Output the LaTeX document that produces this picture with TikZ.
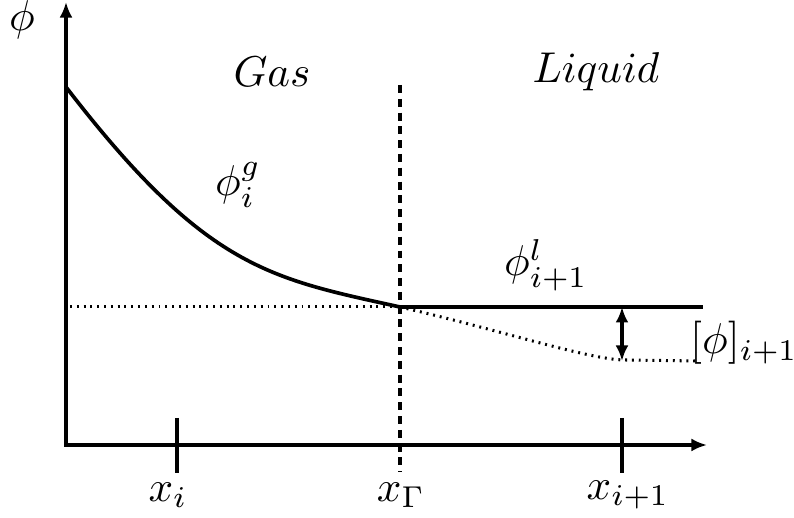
\documentclass[tikz,border=0pt]{standalone}
\usetikzlibrary{arrows.meta}
\begin{document}
\begin{tikzpicture}[x=0.232pt,y=-0.232pt,
  solidline/.style={line width=0.85pt},
  biarrow/.style={line width=0.85pt,arrows={Latex[length=3.6pt,width=3pt]-Latex[length=3.6pt,width=3pt]}},
  dotline/.style={line width=0.7pt, dash pattern=on 0.45pt off 1.13pt},
  dashline/.style={line width=0.85pt, dash pattern=on 1.85pt off 1.35pt},
  lbl/.style={inner sep=0pt}]
\useasboundingbox (0,0) rectangle (794,518);
% axes
\coordinate (O) at (66,445);
\coordinate (ytop) at (66,2);
\coordinate (xend) at (707,445);
\draw[biarrow] (ytop) -- (O) -- (xend);
% ticks
\coordinate (t1a) at (177,418); \coordinate (t1b) at (177,473);
\coordinate (t2a) at (622,418); \coordinate (t2b) at (622,473);
\draw[solidline] (t1a) -- (t1b);
\draw[solidline] (t2a) -- (t2b);
% interface
\coordinate (da) at (400,85); \coordinate (db) at (400,472);
\draw[dashline] (da) -- (db);
% gas curve
\coordinate (g0) at (66,87);
\coordinate (G) at (400,307);
\draw[solidline] (g0) .. controls (206,269) and (270,278.4) .. (G);
% liquid solid line
\coordinate (lend) at (703,307);
\draw[solidline] (G) -- (lend);
% dotted continuation
\coordinate (yl) at (70,307);
\draw[dotline] (yl) -- (G);
\coordinate (jump) at (625,360);
\coordinate (dend) at (697,361);
\draw[dotline] (G) .. controls (500,330) and (590,360) .. (jump) -- (dend);
% jump arrow
\coordinate (ja) at (622,307); \coordinate (jb) at (622,361);
\draw[biarrow] (ja) -- (jb);
% labels
\node[lbl] (phi) at (22,20) {$\phi$};
\node[lbl] (gas) at (272,72) {$Gas$};
\node[lbl] (liq) at (596,72) {$Liquid$};
\node[lbl] (phig) at (238,185) {$\phi_i^g$};
\node[lbl] (phil) at (546,265) {$\phi_{i+1}^l$};
\node[lbl] (jmp) at (744,343) {$[\phi]_{i+1}$};
\node[lbl] (xi) at (168,495) {$x_i$};
\node[lbl] (xg) at (401,495) {$x_\Gamma$};
\node[lbl] (xip) at (628,495) {$x_{i+1}$};
\end{tikzpicture}
\end{document}
